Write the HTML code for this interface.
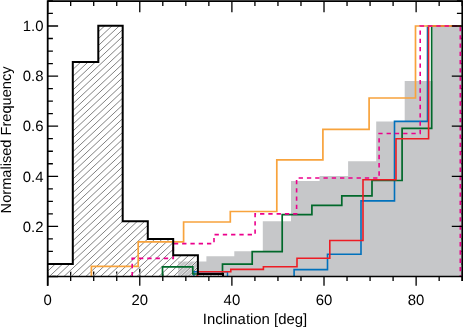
<!DOCTYPE html><html><head><meta charset="utf-8"><style>html,body{margin:0;padding:0;background:#fff;}svg{display:block;}text{font-family:"Liberation Sans",sans-serif;font-size:14.9px;fill:#000;text-rendering:geometricPrecision;}</style></head><body>
<svg width="463" height="327" viewBox="0 0 463 327">
<defs>
<clipPath id="c"><rect x="0" y="0" width="463" height="327"/></clipPath></defs>
<rect width="463" height="327" fill="#fff"/>
<path d="M47.65 268.50 V285.70 M47.65 1.00 V12.20 M70.68 271.60 V281.10 M70.68 1.00 V6.00 M93.71 271.60 V281.10 M93.71 1.00 V6.00 M116.74 271.60 V281.10 M116.74 1.00 V6.00 M139.77 268.50 V285.70 M139.77 1.00 V12.20 M162.80 271.60 V281.10 M162.80 1.00 V6.00 M185.83 271.60 V281.10 M185.83 1.00 V6.00 M208.86 271.60 V281.10 M208.86 1.00 V6.00 M231.89 268.50 V285.70 M231.89 1.00 V12.20 M254.92 271.60 V281.10 M254.92 1.00 V6.00 M277.95 271.60 V281.10 M277.95 1.00 V6.00 M300.98 271.60 V281.10 M300.98 1.00 V6.00 M324.01 268.50 V285.70 M324.01 1.00 V12.20 M347.04 271.60 V281.10 M347.04 1.00 V6.00 M370.07 271.60 V281.10 M370.07 1.00 V6.00 M393.10 271.60 V281.10 M393.10 1.00 V6.00 M416.13 268.50 V285.70 M416.13 1.00 V12.20 M439.16 271.60 V281.10 M439.16 1.00 V6.00 M462.19 271.60 V281.10 M462.19 1.00 V6.00 M47.70 276.50 H58.10 M47.70 263.98 H52.90 M462.30 263.98 H456.90 M47.70 251.45 H52.90 M462.30 251.45 H456.90 M47.70 238.93 H52.90 M462.30 238.93 H456.90 M47.70 226.40 H58.10 M47.70 213.88 H52.90 M462.30 213.88 H456.90 M47.70 201.35 H52.90 M462.30 201.35 H456.90 M47.70 188.82 H52.90 M462.30 188.82 H456.90 M47.70 176.30 H58.10 M47.70 163.77 H52.90 M462.30 163.77 H456.90 M47.70 151.25 H52.90 M462.30 151.25 H456.90 M47.70 138.72 H52.90 M462.30 138.72 H456.90 M47.70 126.20 H58.10 M47.70 113.67 H52.90 M462.30 113.67 H456.90 M47.70 101.15 H52.90 M462.30 101.15 H456.90 M47.70 88.62 H52.90 M462.30 88.62 H456.90 M47.70 76.10 H58.10 M47.70 63.57 H52.90 M462.30 63.57 H456.90 M47.70 51.05 H52.90 M462.30 51.05 H456.90 M47.70 38.52 H52.90 M462.30 38.52 H456.90 M47.70 26.00 H58.10 M47.70 13.47 H52.90 M462.30 13.47 H456.90 M47.70 0.95 H52.90 M462.30 0.95 H456.90" stroke="#000" stroke-width="1.3" fill="none"/>
<path d="M178.10 276.50 L178.10 261.60 L206.40 261.60 L206.40 256.30 L234.30 256.30 L234.30 251.30 L262.80 251.30 L262.80 221.20 L291.00 221.20 L291.00 180.90 L319.60 180.90 L319.60 176.00 L348.10 176.00 L348.10 161.20 L376.20 161.20 L376.20 121.40 L404.70 121.40 L404.70 81.00 L432.70 81.00 L432.70 26.00 L461.60 26.00 L461.60 276.50 Z" fill="#c6c7c9"/>
<clipPath id="hc"><path d="M47.70 263.90 L72.80 263.90 L72.80 61.90 L98.30 61.90 L98.30 25.80 L122.70 25.80 L122.70 221.30 L147.80 221.30 L147.80 239.00 L173.20 239.00 L173.20 255.30 L197.90 255.30 L197.90 274.00 L223.00 274.00 L223.00 276.50 L223.00 276.50 L47.70 276.50 Z"/></clipPath>
<path d="M40.00 24.94 L230.00 -153.35 M40.00 31.79 L230.00 -146.50 M40.00 38.64 L230.00 -139.65 M40.00 45.49 L230.00 -132.80 M40.00 52.34 L230.00 -125.95 M40.00 59.19 L230.00 -119.10 M40.00 66.04 L230.00 -112.25 M40.00 72.89 L230.00 -105.40 M40.00 79.74 L230.00 -98.55 M40.00 86.59 L230.00 -91.70 M40.00 93.44 L230.00 -84.85 M40.00 100.29 L230.00 -78.00 M40.00 107.14 L230.00 -71.15 M40.00 113.99 L230.00 -64.30 M40.00 120.84 L230.00 -57.45 M40.00 127.69 L230.00 -50.60 M40.00 134.54 L230.00 -43.75 M40.00 141.39 L230.00 -36.90 M40.00 148.24 L230.00 -30.05 M40.00 155.09 L230.00 -23.20 M40.00 161.94 L230.00 -16.35 M40.00 168.79 L230.00 -9.50 M40.00 175.64 L230.00 -2.65 M40.00 182.49 L230.00 4.20 M40.00 189.34 L230.00 11.05 M40.00 196.19 L230.00 17.90 M40.00 203.04 L230.00 24.75 M40.00 209.89 L230.00 31.60 M40.00 216.74 L230.00 38.45 M40.00 223.59 L230.00 45.30 M40.00 230.44 L230.00 52.15 M40.00 237.29 L230.00 59.00 M40.00 244.14 L230.00 65.85 M40.00 250.99 L230.00 72.70 M40.00 257.84 L230.00 79.55 M40.00 264.69 L230.00 86.40 M40.00 271.54 L230.00 93.25 M40.00 278.39 L230.00 100.10 M40.00 285.24 L230.00 106.95 M40.00 292.09 L230.00 113.80 M40.00 298.94 L230.00 120.65 M40.00 305.79 L230.00 127.50 M40.00 312.64 L230.00 134.35 M40.00 319.49 L230.00 141.20 M40.00 326.34 L230.00 148.05 M40.00 333.19 L230.00 154.90 M40.00 340.04 L230.00 161.75 M40.00 346.89 L230.00 168.60 M40.00 353.74 L230.00 175.45 M40.00 360.59 L230.00 182.30 M40.00 367.44 L230.00 189.15 M40.00 374.29 L230.00 196.00 M40.00 381.14 L230.00 202.85 M40.00 387.99 L230.00 209.70 M40.00 394.84 L230.00 216.55 M40.00 401.69 L230.00 223.40 M40.00 408.54 L230.00 230.25 M40.00 415.39 L230.00 237.10 M40.00 422.24 L230.00 243.95 M40.00 429.09 L230.00 250.80 M40.00 435.94 L230.00 257.65 M40.00 442.79 L230.00 264.50 M40.00 449.64 L230.00 271.35 M40.00 456.49 L230.00 278.20" stroke="#fff" stroke-opacity="0.7" stroke-width="2.2" fill="none" clip-path="url(#hc)"/>
<path d="M40.00 24.94 L230.00 -153.35 M40.00 31.79 L230.00 -146.50 M40.00 38.64 L230.00 -139.65 M40.00 45.49 L230.00 -132.80 M40.00 52.34 L230.00 -125.95 M40.00 59.19 L230.00 -119.10 M40.00 66.04 L230.00 -112.25 M40.00 72.89 L230.00 -105.40 M40.00 79.74 L230.00 -98.55 M40.00 86.59 L230.00 -91.70 M40.00 93.44 L230.00 -84.85 M40.00 100.29 L230.00 -78.00 M40.00 107.14 L230.00 -71.15 M40.00 113.99 L230.00 -64.30 M40.00 120.84 L230.00 -57.45 M40.00 127.69 L230.00 -50.60 M40.00 134.54 L230.00 -43.75 M40.00 141.39 L230.00 -36.90 M40.00 148.24 L230.00 -30.05 M40.00 155.09 L230.00 -23.20 M40.00 161.94 L230.00 -16.35 M40.00 168.79 L230.00 -9.50 M40.00 175.64 L230.00 -2.65 M40.00 182.49 L230.00 4.20 M40.00 189.34 L230.00 11.05 M40.00 196.19 L230.00 17.90 M40.00 203.04 L230.00 24.75 M40.00 209.89 L230.00 31.60 M40.00 216.74 L230.00 38.45 M40.00 223.59 L230.00 45.30 M40.00 230.44 L230.00 52.15 M40.00 237.29 L230.00 59.00 M40.00 244.14 L230.00 65.85 M40.00 250.99 L230.00 72.70 M40.00 257.84 L230.00 79.55 M40.00 264.69 L230.00 86.40 M40.00 271.54 L230.00 93.25 M40.00 278.39 L230.00 100.10 M40.00 285.24 L230.00 106.95 M40.00 292.09 L230.00 113.80 M40.00 298.94 L230.00 120.65 M40.00 305.79 L230.00 127.50 M40.00 312.64 L230.00 134.35 M40.00 319.49 L230.00 141.20 M40.00 326.34 L230.00 148.05 M40.00 333.19 L230.00 154.90 M40.00 340.04 L230.00 161.75 M40.00 346.89 L230.00 168.60 M40.00 353.74 L230.00 175.45 M40.00 360.59 L230.00 182.30 M40.00 367.44 L230.00 189.15 M40.00 374.29 L230.00 196.00 M40.00 381.14 L230.00 202.85 M40.00 387.99 L230.00 209.70 M40.00 394.84 L230.00 216.55 M40.00 401.69 L230.00 223.40 M40.00 408.54 L230.00 230.25 M40.00 415.39 L230.00 237.10 M40.00 422.24 L230.00 243.95 M40.00 429.09 L230.00 250.80 M40.00 435.94 L230.00 257.65 M40.00 442.79 L230.00 264.50 M40.00 449.64 L230.00 271.35 M40.00 456.49 L230.00 278.20" stroke="#000" stroke-width="0.5" fill="none" clip-path="url(#hc)"/>
<path d="M193.90 276.50 L193.90 271.80 L227.50 271.80 L227.50 276.50" fill="none" stroke="#0071bc" stroke-width="1.4" stroke-linejoin="miter" />
<path d="M294.10 276.50 L294.10 269.60 L327.50 269.60 L327.50 254.30 L361.00 254.30 L361.00 200.90 L394.50 200.90 L394.50 121.40 L427.50 121.40 L427.50 26.00 L461.00 26.00" fill="none" stroke="#0071bc" stroke-width="1.6" stroke-linejoin="miter" />
<path d="M162.50 276.50 L162.50 266.80 L192.80 266.80 L192.80 274.00 L222.50 274.00 L222.50 264.20 L252.20 264.20 L252.20 251.70 L282.20 251.70 L282.20 214.60 L311.90 214.60 L311.90 205.30 L341.80 205.30 L341.80 195.90 L372.00 195.90 L372.00 180.50 L402.10 180.50 L402.10 128.40 L431.70 128.40 L431.70 26.00 L461.00 26.00" fill="none" stroke="#00682a" stroke-width="1.7" stroke-linejoin="miter" />
<path d="M197.70 276.50 L197.70 271.80 L230.80 271.80 L230.80 269.40 L263.40 269.40 L263.40 266.80 L297.00 266.80 L297.00 258.30 L329.80 258.30 L329.80 240.50 L363.00 240.50 L363.00 179.80 L396.00 179.80 L396.00 138.80 L428.60 138.80 L428.60 26.00 L461.00 26.00" fill="none" stroke="#ed1c24" stroke-width="1.6" stroke-linejoin="miter" />
<path d="M91.40 276.50 L91.40 266.30 L138.20 266.30 L138.20 241.80 L183.60 241.80 L183.60 222.00 L230.30 222.00 L230.30 211.50 L276.80 211.50 L276.80 159.90 L322.90 159.90 L322.90 129.30 L369.10 129.30 L369.10 98.00 L415.50 98.00 L415.50 26.00 L461.00 26.00" fill="none" stroke="#f8a33c" stroke-width="1.7" stroke-linejoin="miter" />
<path d="M132.20 276.50 L132.20 258.40 L173.30 258.40 L173.30 243.60 L214.00 243.60 L214.00 234.60 L255.10 234.60 L255.10 213.90 L296.60 213.90 L296.60 178.00 L379.10 178.00 L379.10 133.50 L420.20 133.50 L420.20 26.00 L460.30 26.00 L460.30 276.50" fill="none" stroke="#ec008c" stroke-width="1.6" stroke-linejoin="miter" stroke-dasharray="4.33 3.947" stroke-dashoffset="8.21"/>
<path d="M47.70 263.90 L72.80 263.90 L72.80 61.90 L98.30 61.90 L98.30 25.80 L122.70 25.80 L122.70 221.30 L147.80 221.30 L147.80 239.00 L173.20 239.00 L173.20 255.30 L197.90 255.30 L197.90 274.00 L223.00 274.00 L223.00 276.50" fill="none" stroke="#000" stroke-width="2.0" stroke-linejoin="miter" />
<path d="M47.70 285.70 V1.15 H462.30 V281.10" fill="none" stroke="#000" stroke-width="1.8"/>
<path d="M47.70 276.50 H462.30" fill="none" stroke="#000" stroke-width="1.5"/>
<path d="M462.30 226.40 H451.80 M462.30 176.30 H451.80 M462.30 126.20 H451.80 M462.30 76.10 H451.80 M462.30 26.00 H451.80" stroke="#000" stroke-width="1.3" fill="none"/>
<g style="filter:grayscale(1)">
<text x="47.65" y="305.3" text-anchor="middle">0</text>
<text x="139.77" y="305.3" text-anchor="middle">20</text>
<text x="231.89" y="305.3" text-anchor="middle">40</text>
<text x="324.01" y="305.3" text-anchor="middle">60</text>
<text x="416.13" y="305.3" text-anchor="middle">80</text>
<text x="43.5" y="231.60" text-anchor="end">0.2</text>
<text x="43.5" y="181.50" text-anchor="end">0.4</text>
<text x="43.5" y="131.40" text-anchor="end">0.6</text>
<text x="43.5" y="81.30" text-anchor="end">0.8</text>
<text x="43.5" y="31.20" text-anchor="end">1.0</text>
<text x="255.0" y="323.5" text-anchor="middle">Inclination [deg]</text>
<text transform="translate(11.2 139.9) rotate(-90)" text-anchor="middle" style="font-size:14.62px">Normalised Frequency</text>
</g>
</svg></body></html>
